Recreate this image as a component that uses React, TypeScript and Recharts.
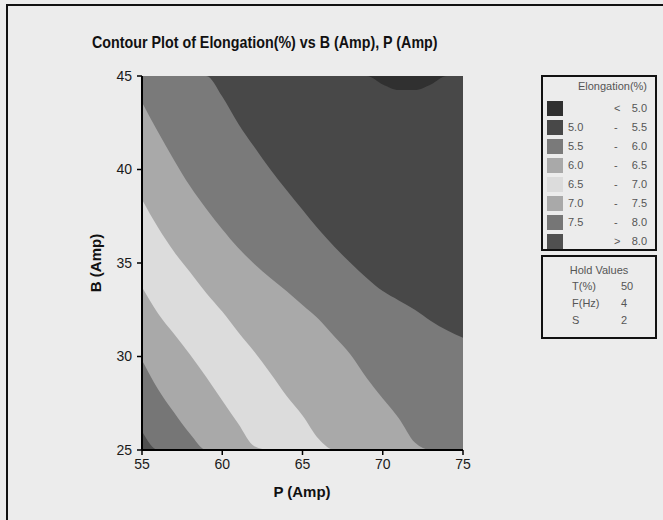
import { ComposedChart, Area, XAxis, YAxis, CartesianGrid } from 'recharts'

// P (Amp) grid, and B (Amp) where each contour line meets that P (clamped to the plot)
const pAmp = [55, 56, 57, 58, 59, 60, 61, 62, 63, 64, 65, 66, 67, 68, 69, 70, 71, 72, 73, 74, 75]
const line50 = [45, 45, 45, 45, 45, 45, 45, 45, 45, 45, 45, 45, 45, 45, 45, 44.55, 44.25, 44.25, 44.55, 45, 45]
const line55 = [45, 45, 45, 45, 45, 43.9, 42.45, 41.2, 40.0, 38.9, 37.85, 36.8, 35.85, 35.0, 34.2, 33.5, 33.0, 32.5, 31.9, 31.4, 31.0]
const line60 = [43.6, 42.0, 40.5, 39.1, 37.9, 36.8, 35.8, 34.95, 34.2, 33.5, 32.75, 32.0, 31.05, 30.1, 28.85, 27.75, 26.7, 25.4, 25, 25, 25]
const line65 = [38.4, 36.9, 35.6, 34.5, 33.4, 32.4, 31.3, 30.25, 29.1, 27.9, 26.85, 25.6, 25, 25, 25, 25, 25, 25, 25, 25, 25]
const line70 = [33.7, 32.3, 31.2, 30.1, 28.9, 27.65, 26.4, 25.2, 25, 25, 25, 25, 25, 25, 25, 25, 25, 25, 25, 25, 25]
const line75 = [29.8, 28.25, 27.0, 25.85, 25, 25, 25, 25, 25, 25, 25, 25, 25, 25, 25, 25, 25, 25, 25, 25, 25]
const line80 = [26.0, 25, 25, 25, 25, 25, 25, 25, 25, 25, 25, 25, 25, 25, 25, 25, 25, 25, 25, 25, 25]

const pTicks = [55, 60, 65, 70, 75]
const bTicks = [25, 30, 35, 40, 45]

const legendLow = ['', '5.0', '5.5', '6.0', '6.5', '7.0', '7.5', '']
const legendMid = ['<', '-', '-', '-', '-', '-', '-', '>']
const legendHigh = ['5.0', '5.5', '6.0', '6.5', '7.0', '7.5', '8.0', '8.0']
const bandColors = ['#303030', '#484848', '#7a7a7a', '#a9a9a9', '#dcdcdc', '#a9a9a9', '#767676', '#505050']

const holdNames = ['T(%)', 'F(Hz)', 'S']
const holdValues = ['50', '4', '2']

const data = pAmp.map((p, i) => ({
  p,
  l50: line50[i],
  l55: line55[i],
  l60: line60[i],
  l65: line65[i],
  l70: line70[i],
  l75: line75[i],
  l80: line80[i],
}))

const areaKeys = ['l50', 'l55', 'l60', 'l65', 'l70', 'l75', 'l80']

const tickStyle = { fill: '#1a1a1a', fontSize: 14, fontFamily: 'Liberation Sans, Arial, sans-serif' }
const legendFont = 'Liberation Sans, Arial, sans-serif'

export default function App() {
  return (
    <div style={{ position: 'absolute', left: 0, top: 0, width: 663, height: 520, background: '#ececec', overflow: 'hidden' }}>
      <div style={{ position: 'absolute', left: 6, top: 4, width: 700, height: 560, borderTop: '2px solid #111', borderLeft: '2px solid #111' }} />

      <div style={{ position: 'absolute', left: 0, top: 0 }}>
        <ComposedChart width={663} height={520} data={data} margin={{ top: 76, right: 200, bottom: 0, left: 0 }}>
          <CartesianGrid horizontal={false} vertical={false} fill={bandColors[0]} fillOpacity={1} />
          <XAxis
            xAxisId="bottom"
            type="number"
            dataKey="p"
            domain={[55, 75]}
            ticks={pTicks}
            allowDataOverflow
            height={70}
            tick={tickStyle}
            tickSize={5}
            tickMargin={4}
            axisLine={{ stroke: '#000', strokeWidth: 2 }}
            tickLine={{ stroke: '#000', strokeWidth: 1.5 }}
          />
          <XAxis xAxisId="top" orientation="top" type="number" dataKey="p" domain={[55, 75]} height={0} tick={false} tickLine={false} axisLine={{ stroke: '#000', strokeWidth: 1.5 }} />
          <YAxis
            yAxisId="left"
            type="number"
            domain={[25, 45]}
            ticks={bTicks}
            allowDataOverflow
            width={142}
            tick={tickStyle}
            tickSize={5}
            tickMargin={5}
            axisLine={{ stroke: '#000', strokeWidth: 2 }}
            tickLine={{ stroke: '#000', strokeWidth: 1.5 }}
          />
          <YAxis yAxisId="right" orientation="right" type="number" domain={[25, 45]} width={0} tick={false} tickLine={false} axisLine={{ stroke: '#000', strokeWidth: 1.5 }} />
          {areaKeys.map((k, i) => (
            <Area
              key={k}
              xAxisId="bottom"
              yAxisId="left"
              type="monotone"
              dataKey={k}
              baseValue="dataMin"
              stroke="none"
              fill={bandColors[i + 1]}
              fillOpacity={1}
              isAnimationActive={false}
              dot={false}
              activeDot={false}
            />
          ))}
        </ComposedChart>
      </div>

      <div style={{ position: 'absolute', left: 92, top: 33, transform: 'scaleX(0.84)', transformOrigin: 'left center', fontFamily: 'Liberation Sans, Arial, sans-serif', fontWeight: 'bold', fontSize: 17, color: '#111', whiteSpace: 'nowrap' }}>
        Contour Plot of Elongation(%) vs B (Amp), P (Amp)
      </div>
      <div style={{ position: 'absolute', left: 302, top: 483, transform: 'translateX(-50%)', fontFamily: 'Liberation Sans, Arial, sans-serif', fontWeight: 'bold', fontSize: 15, color: '#111', whiteSpace: 'nowrap' }}>
        P (Amp)
      </div>
      <div style={{ position: 'absolute', left: 95, top: 263, transform: 'translate(-50%, -50%) rotate(-90deg)', fontFamily: 'Liberation Sans, Arial, sans-serif', fontWeight: 'bold', fontSize: 15, color: '#111', whiteSpace: 'nowrap' }}>
        B (Amp)
      </div>

      <div style={{ position: 'absolute', left: 541, top: 75, width: 112, height: 172, border: '2px solid #111', background: '#ececec', fontFamily: legendFont, fontSize: 11, color: '#555' }}>
        <div style={{ position: 'absolute', right: 8, top: 3 }}>Elongation(%)</div>
        {bandColors.map((c, i) => (
          <div key={i} style={{ position: 'absolute', left: 0, top: 24 + i * 19, width: 112, height: 15 }}>
            <div style={{ position: 'absolute', left: 4, top: 0, width: 16, height: 15, background: c }} />
            <div style={{ position: 'absolute', left: 25, top: 1 }}>{legendLow[i]}</div>
            <div style={{ position: 'absolute', left: 71, top: 1 }}>{legendMid[i]}</div>
            <div style={{ position: 'absolute', right: 8, top: 1 }}>{legendHigh[i]}</div>
          </div>
        ))}
      </div>

      <div style={{ position: 'absolute', left: 541, top: 255, width: 112, height: 80, border: '2px solid #111', background: '#ececec', fontFamily: legendFont, fontSize: 11, color: '#555' }}>
        <div style={{ position: 'absolute', left: 0, width: 112, top: 7, textAlign: 'center' }}>Hold Values</div>
        {holdNames.map((n, i) => (
          <div key={n}>
            <div style={{ position: 'absolute', left: 29, top: 23 + i * 17 }}>{n}</div>
            <div style={{ position: 'absolute', left: 78, top: 23 + i * 17 }}>{holdValues[i]}</div>
          </div>
        ))}
      </div>
    </div>
  )
}
